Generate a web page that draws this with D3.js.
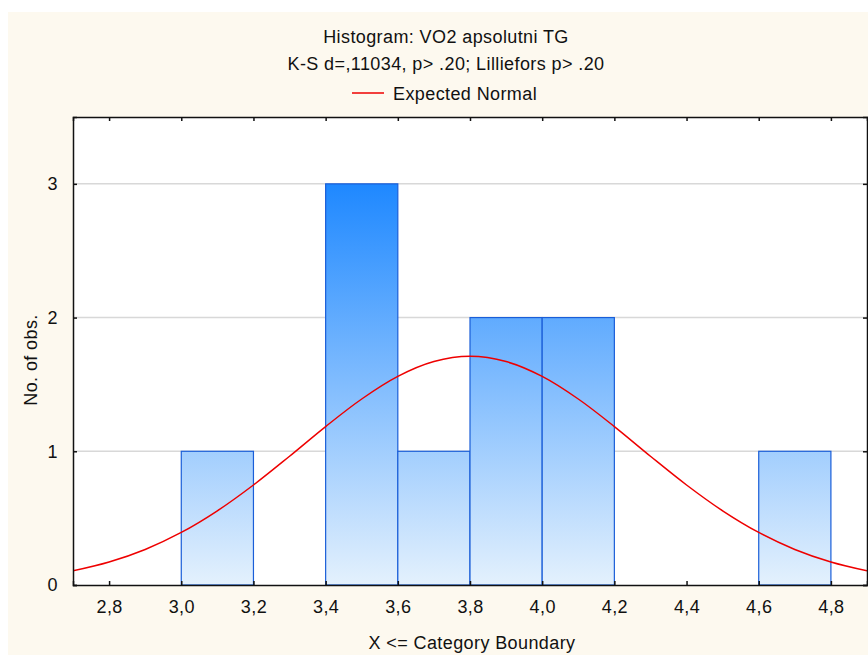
<!DOCTYPE html>
<html>
<head>
<meta charset="utf-8">
<script src="https://cdn.jsdelivr.net/npm/d3@7"></script>
<style>
  body { margin: 0; background: #fff; }
  text { font-family: "Liberation Sans", Arial, sans-serif; fill: #111; letter-spacing: 0.4px; }
</style>
</head>
<body>
<div id="chart"></div>
<script>
// histogram bins (upper boundary) and counts
var binStart = [3.0, 3.4, 3.6, 3.8, 4.0, 4.6];
var binEnd   = [3.2, 3.6, 3.8, 4.0, 4.2, 4.8];
var counts   = [1, 3, 1, 2, 2, 1];

// expected normal curve, every 0.1
var curveX = [2.7, 2.8, 2.9, 3.0, 3.1, 3.2, 3.3, 3.4, 3.5, 3.6, 3.7, 3.8,
              3.9, 4.0, 4.1, 4.2, 4.3, 4.4, 4.5, 4.6, 4.7, 4.8, 4.9];
var curveY = [0.106, 0.172, 0.266, 0.393, 0.555, 0.748, 0.963, 1.185, 1.391, 1.560, 1.671, 1.71,
              1.671, 1.560, 1.391, 1.185, 0.963, 0.748, 0.555, 0.393, 0.266, 0.172, 0.106];

var xTicks = [2.8, 3.0, 3.2, 3.4, 3.6, 3.8, 4.0, 4.2, 4.4, 4.6, 4.8];
var yTicks = [0, 1, 2, 3];

var svgWidth = 868;
var svgHeight = 657;
var fontSize = 18;

var margin = { top: 117, right: 1, bottom: 72, left: 73 };
var width = svgWidth - margin.left - margin.right;
var height = svgHeight - margin.top - margin.bottom;

var svg = d3.select("#chart")
  .append("svg")
  .attr("width", svgWidth)
  .attr("height", svgHeight);

// cream frame
svg.append("rect")
  .attr("x", 8).attr("y", 12)
  .attr("width", svgWidth - 8).attr("height", 643)
  .attr("fill", "#fdf9ef");

var chartGroup = svg.append("g")
  .attr("transform", `translate(${margin.left}, ${margin.top})`);

var xScale = d3.scaleLinear().domain([2.7, 4.9]).range([0, width]);
var yScale = d3.scaleLinear().domain([0, 3.5]).range([height, 0]);

// gradient spans the value range, so taller bars get deeper blue
var defs = svg.append("defs");
var grad = defs.append("linearGradient")
  .attr("id", "barGrad")
  .attr("gradientUnits", "userSpaceOnUse")
  .attr("x1", 0).attr("x2", 0)
  .attr("y1", yScale(3)).attr("y2", yScale(0));
grad.append("stop").attr("offset", "0%").attr("stop-color", "#1e88ff");
grad.append("stop").attr("offset", "100%").attr("stop-color", "#e4f1fd");

defs.append("clipPath").attr("id", "plotClip")
  .append("rect").attr("width", width).attr("height", height);

// plot background
chartGroup.append("rect")
  .attr("width", width).attr("height", height)
  .attr("fill", "#fff");

// gridlines
chartGroup.selectAll(".grid")
  .data(yTicks.filter(d => d > 0))
  .enter().append("line")
  .attr("x1", 0).attr("x2", width)
  .attr("y1", d => yScale(d)).attr("y2", d => yScale(d))
  .attr("stroke", "#d8d8d8")
  .attr("stroke-width", 1.5);

// bars
chartGroup.selectAll(".bar")
  .data(counts)
  .enter().append("rect")
  .attr("class", "bar")
  .attr("x", (d, i) => xScale(binStart[i]))
  .attr("width", (d, i) => xScale(binEnd[i]) - xScale(binStart[i]))
  .attr("y", d => yScale(d))
  .attr("height", d => height - yScale(d))
  .attr("fill", "url(#barGrad)")
  .attr("stroke", "#1a5ed8")
  .attr("stroke-width", 1.2);

// expected normal
var line = d3.line()
  .x((d, i) => xScale(curveX[i]))
  .y(d => yScale(d))
  .curve(d3.curveCatmullRom);

chartGroup.append("path")
  .datum(curveY)
  .attr("clip-path", "url(#plotClip)")
  .attr("d", line)
  .attr("fill", "none")
  .attr("stroke", "#ee0000")
  .attr("stroke-width", 1.5);

// axes with inward ticks on all four sides
var bottomAxis = d3.axisBottom(xScale).tickValues(xTicks).tickSize(-4).tickPadding(15)
  .tickFormat(d => d3.format(".1f")(d).replace(".", ","));
var topAxis = d3.axisTop(xScale).tickValues(xTicks).tickSize(-4).tickFormat("");
var leftAxis = d3.axisLeft(yScale).tickValues(yTicks).tickSize(-4).tickPadding(15)
  .tickFormat(d3.format("d"));
var rightAxis = d3.axisRight(yScale).tickValues(yTicks).tickSize(-4).tickFormat("");

function styleAxis(g) {
  g.select(".domain").attr("stroke", "#111").attr("stroke-width", 1.5);
  g.selectAll(".tick line").attr("stroke", "#111").attr("stroke-width", 1.5);
  g.selectAll(".tick text")
    .attr("font-family", "Liberation Sans, Arial, sans-serif")
    .attr("font-size", fontSize)
    .attr("fill", "#111");
}

chartGroup.append("g").attr("transform", `translate(0, ${height})`).call(bottomAxis).call(styleAxis);
chartGroup.append("g").call(topAxis).call(styleAxis);
chartGroup.append("g").call(leftAxis).call(styleAxis);
chartGroup.append("g").attr("transform", `translate(${width}, 0)`).call(rightAxis).call(styleAxis);

// titles
svg.append("text")
  .attr("x", 446).attr("y", 43)
  .attr("text-anchor", "middle")
  .attr("font-size", fontSize)
  .text("Histogram: VO2 apsolutni TG");

svg.append("text")
  .attr("x", 446).attr("y", 70)
  .attr("text-anchor", "middle")
  .attr("font-size", fontSize)
  .text("K-S d=,11034, p> .20; Lilliefors p> .20");

// legend
svg.append("line")
  .attr("x1", 352).attr("x2", 384)
  .attr("y1", 93).attr("y2", 93)
  .attr("stroke", "#ee0000")
  .attr("stroke-width", 1.5);
svg.append("text")
  .attr("x", 393).attr("y", 100)
  .attr("font-size", fontSize)
  .text("Expected Normal");

// axis labels
svg.append("text")
  .attr("x", 472).attr("y", 649)
  .attr("text-anchor", "middle")
  .attr("font-size", fontSize)
  .text("X <= Category Boundary");

svg.append("text")
  .attr("transform", "rotate(-90)")
  .attr("x", -360)
  .attr("y", 37)
  .attr("text-anchor", "middle")
  .attr("font-size", fontSize)
  .text("No. of obs.");
</script>
</body>
</html>
